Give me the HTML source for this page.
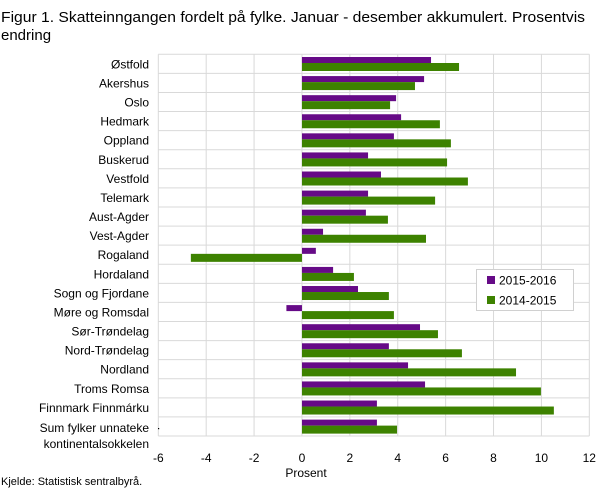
<!DOCTYPE html>
<html><head><meta charset="utf-8"><style>
html,body{margin:0;padding:0;background:#fff;}
svg{display:block;font-family:"Liberation Sans",sans-serif;}
</style></head><body>
<svg width="608" height="489" viewBox="0 0 608 489" xmlns="http://www.w3.org/2000/svg">
<text x="1" y="22" font-size="15" fill="#000" textLength="584" lengthAdjust="spacingAndGlyphs">Figur 1. Skatteinngangen fordelt på fylke. Januar - desember akkumulert. Prosentvis</text>
<text x="1" y="40" font-size="15" fill="#000">endring</text>
<g id="plot"></g>
</svg>
<script>
(function(){
var ns="http://www.w3.org/2000/svg",g=document.getElementById("plot");
function el(t,a,txt){var e=document.createElementNS(ns,t);for(var k in a)e.setAttribute(k,a[k]);if(txt!=null)e.textContent=txt;g.appendChild(e);return e;}
var L=158.3,R=589.3,T=54.3,B=436,u=(R-L)/18,z=L+6*u,rh=(B-T)/20;
var cats=["Østfold","Akershus","Oslo","Hedmark","Oppland","Buskerud","Vestfold","Telemark","Aust-Agder","Vest-Agder","Rogaland","Hordaland","Sogn og Fjordane","Møre og Romsdal","Sør-Trøndelag","Nord-Trøndelag","Nordland","Troms Romsa","Finnmark Finnmárku","SUM"];
var p=[5.39,5.1,3.93,4.14,3.84,2.76,3.3,2.76,2.67,0.88,0.58,1.3,2.34,-0.65,4.93,3.63,4.43,5.14,3.13,3.13];
var q=[6.56,4.72,3.68,5.76,6.22,6.06,6.93,5.56,3.59,5.18,-4.64,2.17,3.63,3.84,5.68,6.68,8.94,9.98,10.52,3.97];
for(var i=0;i<=9;i++){var x=L+i*2*u;el("line",{x1:x,x2:x,y1:T,y2:B,stroke:"#d9d9d9","stroke-width":1});
el("text",{x:x,y:462,"font-size":12,"text-anchor":"middle",fill:"#000"},String(-6+2*i));}
for(var j=0;j<=20;j++){var y=T+j*rh;el("line",{x1:L,x2:R,y1:y,y2:y,stroke:"#d9d9d9","stroke-width":1});}
for(var k=0;k<20;k++){var y0=T+k*rh;
var a=z+p[k]*u;el("rect",{x:Math.min(a,z),y:y0+2.7,width:Math.abs(a-z),height:6,fill:"#660a87"});
var b=z+q[k]*u;el("rect",{x:Math.min(b,z),y:y0+8.7,width:Math.abs(b-z),height:8,fill:"#3d8200"});
if(k<19)el("text",{x:149,y:y0+rh/2+4.5,"font-size":12,"text-anchor":"end",fill:"#000"},cats[k]);
}
el("text",{x:149,y:432,"font-size":12,"text-anchor":"end",fill:"#000"},"Sum fylker unnateke");
el("text",{x:149,y:448,"font-size":12,"text-anchor":"end",fill:"#000"},"kontinentalsokkelen");
el("rect",{x:158,y:428,width:1.2,height:1.2,fill:"#000"});
el("text",{x:306,y:477,"font-size":12,"text-anchor":"middle",fill:"#000"},"Prosent");
el("text",{x:1,y:485,"font-size":11,fill:"#000"},"Kjelde: Statistisk sentralbyrå.");
el("rect",{x:476.5,y:269.5,width:97,height:41,fill:"#fff",stroke:"#d0d0d0","stroke-width":1});
el("rect",{x:487,y:276,width:8,height:8,fill:"#660a87"});
el("rect",{x:487,y:296,width:8,height:8,fill:"#3d8200"});
el("text",{x:499,y:284.5,"font-size":12,fill:"#000"},"2015-2016");
el("text",{x:499,y:304.5,"font-size":12,fill:"#000"},"2014-2015");
})();
</script>
</body></html>
